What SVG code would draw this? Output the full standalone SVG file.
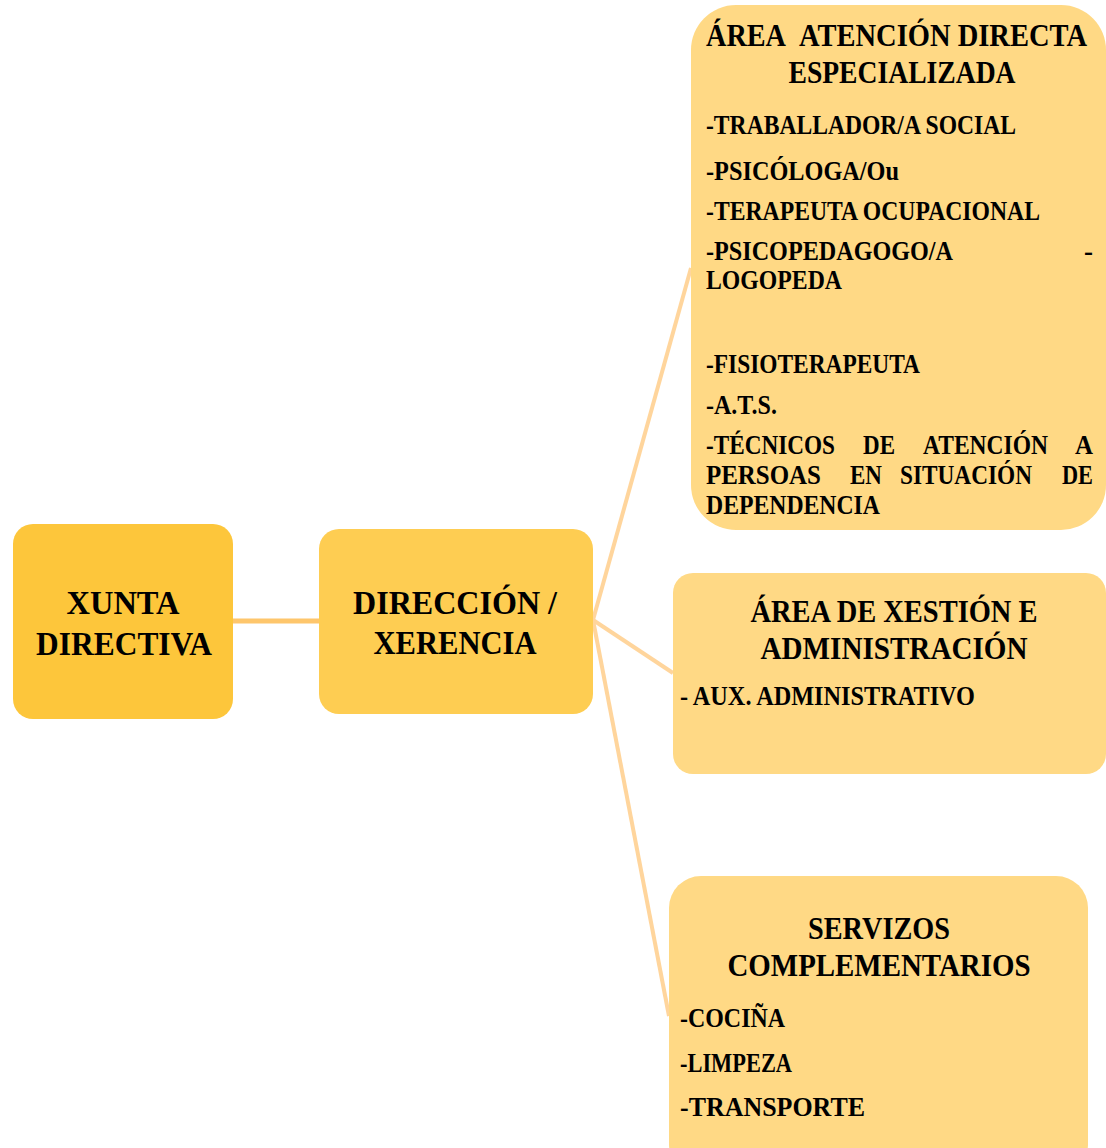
<svg xmlns="http://www.w3.org/2000/svg" width="1106" height="1148" viewBox="0 0 1106 1148">
<style>
text{font-family:"Liberation Serif","Times New Roman",serif;font-weight:bold;fill:#000}
.t{font-size:34px}
.h{font-size:31px}
.i{font-size:27px}
.c{stroke:#FFD59C;stroke-width:4;fill:none}
</style>
<rect width="1106" height="1148" fill="#fff"/>
<g id="connectors">
<line x1="233" y1="621" x2="319" y2="621" stroke="#FEC66C" stroke-width="5"/>
<line class="c" x1="593" y1="620" x2="691" y2="268"/>
<line class="c" x1="593" y1="620" x2="673" y2="673"/>
<line class="c" x1="593" y1="620" x2="669" y2="1016"/>
</g>
<g id="xunta">
<rect x="13" y="524" width="220" height="195" rx="20" fill="#FDC63B"/>
<text class="t" x="123" y="614" text-anchor="middle" textLength="113" lengthAdjust="spacingAndGlyphs">XUNTA</text>
<text class="t" x="124" y="655" text-anchor="middle" textLength="176" lengthAdjust="spacingAndGlyphs">DIRECTIVA</text>
</g>
<g id="direccion">
<rect x="319" y="529" width="274" height="185" rx="20" fill="#FECD52"/>
<text class="t" x="455" y="614" text-anchor="middle" textLength="204" lengthAdjust="spacingAndGlyphs">DIRECCIÓN /</text>
<text class="t" x="455" y="654" text-anchor="middle" textLength="163" lengthAdjust="spacingAndGlyphs">XERENCIA</text>
</g>
<g id="atencion">
<rect x="691" y="5" width="415" height="525" rx="45" fill="#FFD985"/>
<text class="h" x="706" y="46" textLength="80" lengthAdjust="spacingAndGlyphs">ÁREA</text>
<text class="h" x="799" y="46" textLength="288" lengthAdjust="spacingAndGlyphs">ATENCIÓN DIRECTA</text>
<text class="h" x="902" y="83" text-anchor="middle" textLength="227" lengthAdjust="spacingAndGlyphs">ESPECIALIZADA</text>
<text class="i" x="706" y="134" textLength="310" lengthAdjust="spacingAndGlyphs">-TRABALLADOR/A SOCIAL</text>
<text class="i" x="706" y="180" textLength="193" lengthAdjust="spacingAndGlyphs">-PSICÓLOGA/Ou</text>
<text class="i" x="706" y="220" textLength="334" lengthAdjust="spacingAndGlyphs">-TERAPEUTA OCUPACIONAL</text>
<text class="i" x="706" y="260" textLength="247" lengthAdjust="spacingAndGlyphs">-PSICOPEDAGOGO/A</text>
<text class="i" x="1084" y="260">-</text>
<text class="i" x="706" y="289" textLength="136" lengthAdjust="spacingAndGlyphs">LOGOPEDA</text>
<text class="i" x="706" y="373" textLength="214" lengthAdjust="spacingAndGlyphs">-FISIOTERAPEUTA</text>
<text class="i" x="706" y="414" textLength="71" lengthAdjust="spacingAndGlyphs">-A.T.S.</text>
<text class="i" x="706" y="454" textLength="129" lengthAdjust="spacingAndGlyphs">-TÉCNICOS</text>
<text class="i" x="863" y="454" textLength="32" lengthAdjust="spacingAndGlyphs">DE</text>
<text class="i" x="923" y="454" textLength="125" lengthAdjust="spacingAndGlyphs">ATENCIÓN</text>
<text class="i" x="1075" y="454" textLength="18" lengthAdjust="spacingAndGlyphs">A</text>
<text class="i" x="706" y="484" textLength="115" lengthAdjust="spacingAndGlyphs">PERSOAS</text>
<text class="i" x="850" y="484" textLength="32" lengthAdjust="spacingAndGlyphs">EN</text>
<text class="i" x="900" y="484" textLength="132" lengthAdjust="spacingAndGlyphs">SITUACIÓN</text>
<text class="i" x="1062" y="484" textLength="31" lengthAdjust="spacingAndGlyphs">DE</text>
<text class="i" x="706" y="514" textLength="174" lengthAdjust="spacingAndGlyphs">DEPENDENCIA</text>
</g>
<g id="xestion">
<rect x="673" y="573" width="433" height="201" rx="20" fill="#FFD985"/>
<text class="h" x="894" y="622" text-anchor="middle" textLength="287" lengthAdjust="spacingAndGlyphs">ÁREA DE XESTIÓN E</text>
<text class="h" x="894" y="659" text-anchor="middle" textLength="267" lengthAdjust="spacingAndGlyphs">ADMINISTRACIÓN</text>
<text class="i" x="680" y="705" textLength="295" lengthAdjust="spacingAndGlyphs">- AUX. ADMINISTRATIVO</text>
</g>
<g id="servizos">
<rect x="669" y="876" width="419" height="300" rx="32" fill="#FFD985"/>
<text class="h" x="879" y="939" text-anchor="middle" textLength="142" lengthAdjust="spacingAndGlyphs">SERVIZOS</text>
<text class="h" x="879" y="976" text-anchor="middle" textLength="303" lengthAdjust="spacingAndGlyphs">COMPLEMENTARIOS</text>
<text class="i" x="680" y="1027" textLength="105" lengthAdjust="spacingAndGlyphs">-COCIÑA</text>
<text class="i" x="680" y="1072" textLength="112" lengthAdjust="spacingAndGlyphs">-LIMPEZA</text>
<text class="i" x="680" y="1116" textLength="185" lengthAdjust="spacingAndGlyphs">-TRANSPORTE</text>
</g>
</svg>
